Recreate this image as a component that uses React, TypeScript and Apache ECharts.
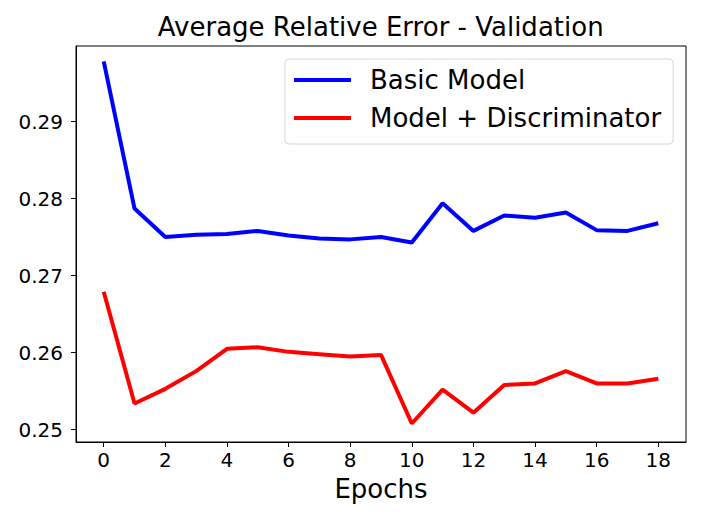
import React, { useEffect, useRef } from "react";
import * as echarts from "echarts";

const epochs = [0, 1, 2, 3, 4, 5, 6, 7, 8, 9, 10, 11, 12, 13, 14, 15, 16, 17, 18];
const basicModel = [0.2978, 0.2787, 0.2750, 0.2753, 0.2754, 0.2758, 0.2752, 0.2748, 0.2747, 0.2750, 0.2743, 0.2794, 0.2758, 0.2778, 0.2775, 0.2782, 0.2759, 0.2758, 0.2768];
const modelDisc = [0.2679, 0.2534, 0.2553, 0.2576, 0.2605, 0.2607, 0.2601, 0.2598, 0.2595, 0.2597, 0.2508, 0.2552, 0.2522, 0.2558, 0.2560, 0.2576, 0.2560, 0.2560, 0.2566];
const xTicks = [0, 2, 4, 6, 8, 10, 12, 14, 16, 18];
const yTicks = [0.25, 0.26, 0.27, 0.28, 0.29];
const seriesNames = ["Basic Model", "Model + Discriminator"];
const titleText = "Average Relative Error - Validation";
const xLabel = "Epochs";

const FONT = "DejaVu Sans";

export default function App() {
  const ref = useRef<HTMLDivElement>(null);
  useEffect(() => {
    if (!ref.current) return;
    const chart = echarts.init(ref.current, null, { renderer: "svg" });
    chart.setOption({
      animation: false,
      backgroundColor: "#fff",
      textStyle: { fontFamily: FONT },
      grid: {
        left: 76,
        right: 16,
        top: 46,
        bottom: 80,
        show: true,
        borderColor: "#000",
        borderWidth: 1,
        containLabel: false,
      },
      graphic: [
        {
          type: "text",
          x: 380.7,
          y: 26.5,
          style: {
            text: titleText,
            fontFamily: FONT,
            fontSize: 26,
            fill: "#000",
            textAlign: "center",
            textVerticalAlign: "middle",
          },
        },
      ],
      legend: {
        orient: "vertical",
        left: 285,
        top: 59,
        padding: [6, 12, 11, 9],
        itemGap: 8,
        itemWidth: 57,
        itemHeight: 4,
        icon: "rect",
        borderColor: "#d6d6d6",
        borderWidth: 1,
        borderRadius: 4,
        backgroundColor: "#fff",
        data: seriesNames,
        textStyle: {
          fontFamily: FONT,
          fontSize: 26,
          color: "#000",
          lineHeight: 30,
          padding: [0, 0, 0, 14],
        },
      },
      xAxis: {
        type: "value",
        min: -0.9,
        max: 18.9,
        name: xLabel,
        nameLocation: "middle",
        nameGap: 34,
        nameTextStyle: { fontFamily: FONT, fontSize: 26, color: "#000" },
        axisLine: { show: true, onZero: false, lineStyle: { color: "#000", width: 1 } },
        axisTick: { show: true, length: 5, customValues: xTicks, lineStyle: { color: "#000" } },
        axisLabel: {
          customValues: xTicks,
          fontFamily: FONT,
          fontSize: 20,
          color: "#000",
          margin: 8,
          showMinLabel: true,
          showMaxLabel: true,
        },
        splitLine: { show: false },
      },
      yAxis: {
        type: "value",
        min: 0.2484,
        max: 0.2998,
        axisLine: { show: true, onZero: false, lineStyle: { color: "#000", width: 1 } },
        axisTick: { show: true, length: 5, customValues: yTicks, lineStyle: { color: "#000" } },
        axisLabel: {
          customValues: yTicks,
          fontFamily: FONT,
          fontSize: 20,
          color: "#000",
          margin: 13,
          formatter: (v: number) => v.toFixed(2),
        },
        splitLine: { show: false },
      },
      series: [
        {
          name: seriesNames[0],
          type: "line",
          data: epochs.map((e, i) => [e, basicModel[i]]),
          symbol: "none",
          color: "#0000ff",
          lineStyle: { color: "#0000ff", width: 4 },
        },
        {
          name: seriesNames[1],
          type: "line",
          data: epochs.map((e, i) => [e, modelDisc[i]]),
          symbol: "none",
          color: "#ff0000",
          lineStyle: { color: "#ff0000", width: 4 },
        },
      ],
    });
    return () => chart.dispose();
  }, []);
  return (
    <div
      ref={ref}
      style={{ position: "fixed", left: 0, top: 0, width: 702, height: 522 }}
    />
  );
}
